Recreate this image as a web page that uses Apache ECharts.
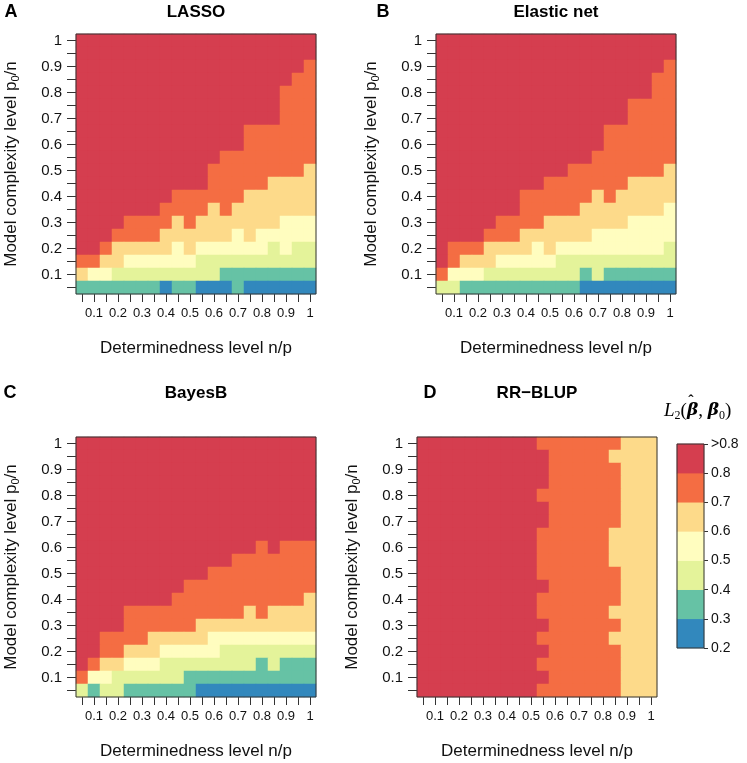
<!DOCTYPE html>
<html>
<head>
<meta charset="utf-8">
<script src="https://cdn.jsdelivr.net/npm/echarts@6/dist/echarts.min.js"></script>
<style>
  html, body { margin: 0; padding: 0; background: #fff; }
  #chart { width: 747px; height: 763px; }
</style>
</head>
<body>
<div id="chart"></div>
<script>
// grid values 0.05 .. 1 on both axes
const xCats = ['0.05', '0.1', '0.15', '0.2', '0.25', '0.3', '0.35', '0.4', '0.45', '0.5',
  '0.55', '0.6', '0.65', '0.7', '0.75', '0.8', '0.85', '0.9', '0.95', '1'];
const yCats = ['0.05', '0.1', '0.15', '0.2', '0.25', '0.3', '0.35', '0.4', '0.45', '0.5',
  '0.55', '0.6', '0.65', '0.7', '0.75', '0.8', '0.85', '0.9', '0.95', '1'];

// each digit = colour class of a cell (2: 0.2-0.3 ... 8: >0.8), rows from p0/n = 1 down to 0.05
const binValue = { '2': 0.25, '3': 0.35, '4': 0.45, '5': 0.55, '6': 0.65, '7': 0.75, '8': 0.85 };

const lassoRows = [
  '88888888888888888888',
  '88888888888888888888',
  '88888888888888888887',
  '88888888888888888877',
  '88888888888888888777',
  '88888888888888888777',
  '88888888888888888777',
  '88888888888888777777',
  '88888888888888777777',
  '88888888888877777777',
  '88888888888777777776',
  '88888888888777776666',
  '88888888777777666666',
  '88888887777676666666',
  '88887777676666666555',
  '88877776666665655555',
  '88766666565555554544',
  '77665555554444444444',
  '65544444444433333333',
  '33333332332223222222'
];

const elasticRows = [
  '88888888888888888888',
  '88888888888888888888',
  '88888888888888888887',
  '88888888888888888877',
  '88888888888888888877',
  '88888888888888887777',
  '88888888888888887777',
  '88888888888888777777',
  '88888888888888777777',
  '88888888888887777777',
  '88888888888777777776',
  '88888888877777776666',
  '88888887777776766666',
  '88888887777766666665',
  '88888777766666665555',
  '88887776666665555555',
  '87776666565555555554',
  '87666555554444444444',
  '75554444444434333333',
  '44333333333322222222'
];

const bayesRows = [
  '88888888888888888888',
  '88888888888888888888',
  '88888888888888888888',
  '88888888888888888888',
  '88888888888888888888',
  '88888888888888888888',
  '88888888888888888888',
  '88888888888888888888',
  '88888888888888878777',
  '88888888888887777777',
  '88888888888777777777',
  '88888888877777777777',
  '88888888777777777776',
  '88887777777777676666',
  '88887777776666666666',
  '88777766666555555555',
  '88776665555544444444',
  '87665554444444434333',
  '75544444433333333333',
  '43443333332222222222'
];

const rrblupRows = [
  '88888888887777777666',
  '88888888888777776666',
  '88888888888777777666',
  '88888888888777777666',
  '88888888887777777666',
  '88888888888777777666',
  '88888888888777777666',
  '88888888887777776666',
  '88888888887777776666',
  '88888888887777776666',
  '88888888887777777666',
  '88888888888777777666',
  '88888888887777777666',
  '88888888887777776666',
  '88888888888777777666',
  '88888888887777776666',
  '88888888888777777666',
  '88888888887777777666',
  '88888888888777777666',
  '88888888887777777666'
];

const panelTitles = ['LASSO', 'Elastic net', 'BayesB', 'RR\u2212BLUP'];
const panelLetters = ['A', 'B', 'C', 'D'];

// colour key
const legendValues = [0.25, 0.35, 0.45, 0.55, 0.65, 0.75, 0.85];
const legendLabels = ['0.2', '0.3', '0.4', '0.5', '0.6', '0.7', '0.8', '>0.8'];
const legendColors = ['#3288BD', '#66C2A5', '#E4F39A', '#FFFDBF', '#FDDA8A', '#F46D43', '#D53E4F'];

const font = 'Liberation Sans, Arial, Helvetica, sans-serif';

const chart = echarts.init(document.getElementById('chart'));

function toCells(rows) {
  const out = [];
  rows.forEach((row, r) => {
    row.split('').forEach((d, c) => {
      out.push([c, yCats.length - 1 - r, binValue[d]]);
    });
  });
  return out;
}

// whole-pixel cells (12 x 13) so the heatmap has no seams
const panels = [
  { rows: lassoRows, left: 76, top: 34, cx: 196, ty: 12, lx: 11 },
  { rows: elasticRows, left: 436, top: 34, cx: 556, ty: 12, lx: 383 },
  { rows: bayesRows, left: 76, top: 437, cx: 196, ty: 393, lx: 10 },
  { rows: rrblupRows, left: 417, top: 437, cx: 537, ty: 393, lx: 430 }
];

const grids = [];
const xAxes = [];
const yAxes = [];
const series = [];
const graphics = [];

panels.forEach((p, i) => {
  grids.push({
    left: p.left, top: p.top, width: 240, height: 260,
    outerBoundsMode: 'none', containLabel: false,
    show: true, borderColor: '#333', borderWidth: 1,
    backgroundColor: 'transparent', z: 5
  });
  xAxes.push({
    type: 'category', gridIndex: i, data: xCats,
    axisLine: { show: false },
    axisTick: { show: true, interval: 0, alignWithLabel: true, length: 8, lineStyle: { color: '#333' } },
    axisLabel: {
      interval: (idx) => idx % 2 === 1,
      fontSize: 13, color: '#111', margin: 13, fontFamily: font
    },
    name: 'Determinedness level n/p', nameLocation: 'middle', nameGap: 46,
    nameTextStyle: { fontSize: 17, color: '#111', fontFamily: font }
  });
  yAxes.push({
    type: 'category', gridIndex: i, data: yCats,
    axisLine: { show: false },
    axisTick: { show: true, interval: 0, alignWithLabel: true, length: 9, lineStyle: { color: '#333' } },
    axisLabel: {
      interval: (idx) => idx % 2 === 1,
      fontSize: 15, color: '#111', margin: 14, fontFamily: font
    },
    name: 'Model complexity level p{sub|0}/n', nameLocation: 'middle', nameGap: 55,
    nameTextStyle: {
      fontSize: 17, color: '#111', fontFamily: font,
      rich: { sub: { fontSize: 11, color: '#111', fontFamily: font, padding: [9, 0, 0, 0] } }
    }
  });
  series.push({
    type: 'heatmap', xAxisIndex: i, yAxisIndex: i,
    data: toCells(p.rows),
    itemStyle: { borderWidth: 0 },
    emphasis: { disabled: true },
    progressive: 0
  });
  graphics.push({
    type: 'text', x: p.lx, y: p.ty,
    style: { text: panelLetters[i], font: 'bold 18px ' + font, fill: '#000', textAlign: 'center', textVerticalAlign: 'middle' }
  });
  graphics.push({
    type: 'text', x: p.cx, y: p.ty,
    style: { text: panelTitles[i], font: 'bold 17px ' + font, fill: '#000', textAlign: 'center', textVerticalAlign: 'middle' }
  });
});

// colour key as its own small grid
grids.push({
  left: 677, top: 444, width: 27, height: 204,
  outerBoundsMode: 'none', containLabel: false,
  show: true, borderColor: '#333', borderWidth: 1, backgroundColor: 'transparent', z: 5
});
xAxes.push({ type: 'category', gridIndex: 4, data: ['key'], show: false });
yAxes.push({ type: 'category', gridIndex: 4, data: legendLabels.slice(0, 7), show: false });
yAxes.push({
  type: 'value', gridIndex: 4, position: 'right', min: 2, max: 9, interval: 1,
  splitLine: { show: false },
  axisLine: { show: false },
  axisTick: { show: true, length: 4, lineStyle: { color: '#333' } },
  axisLabel: {
    fontSize: 14, color: '#111', margin: 7, fontFamily: font,
    formatter: (v) => legendLabels[Math.round(v) - 2]
  }
});
series.push({
  type: 'heatmap', xAxisIndex: 4, yAxisIndex: 4,
  data: legendValues.map((v, i) => [0, i, v]),
  itemStyle: { borderWidth: 0 },
  emphasis: { disabled: true }
});

// key title L2(beta-hat, beta0), hat drawn as its own glyph over the first beta
const serif = 'Liberation Serif, DejaVu Serif, Times New Roman, serif';
const greek = 'DejaVu Serif, Liberation Serif, serif';
graphics.push({
  type: 'text', x: 664, y: 411,
  style: {
    text: '{i|L}{s|2}{n|(}{b|\u03B2}{n|, }{b|\u03B2}{s|0}{n|)}',
    textAlign: 'left', textVerticalAlign: 'middle',
    rich: {
      i: { font: 'italic 19px ' + serif, fill: '#000' },
      n: { font: '19px ' + serif, fill: '#000' },
      b: { font: 'italic bold 17px ' + greek, fill: '#000' },
      s: { font: '12px ' + serif, fill: '#000', padding: [9, 0, 0, 0] }
    }
  }
});
graphics.push({
  type: 'text', x: 691, y: 402,
  style: { text: '\u02C6', font: 'bold 16px ' + serif, fill: '#000', textAlign: 'center', textVerticalAlign: 'middle' }
});

chart.setOption({
  animation: false,
  textStyle: { fontFamily: font },
  grid: grids,
  xAxis: xAxes,
  yAxis: yAxes,
  visualMap: {
    type: 'piecewise', show: false, dimension: 2,
    seriesIndex: [0, 1, 2, 3, 4],
    pieces: [
      { gt: 0.8, color: legendColors[6] },
      { gt: 0.7, lte: 0.8, color: legendColors[5] },
      { gt: 0.6, lte: 0.7, color: legendColors[4] },
      { gt: 0.5, lte: 0.6, color: legendColors[3] },
      { gt: 0.4, lte: 0.5, color: legendColors[2] },
      { gt: 0.3, lte: 0.4, color: legendColors[1] },
      { gt: 0.2, lte: 0.3, color: legendColors[0] }
    ]
  },
  graphic: graphics,
  series: series
});
</script>
</body>
</html>
